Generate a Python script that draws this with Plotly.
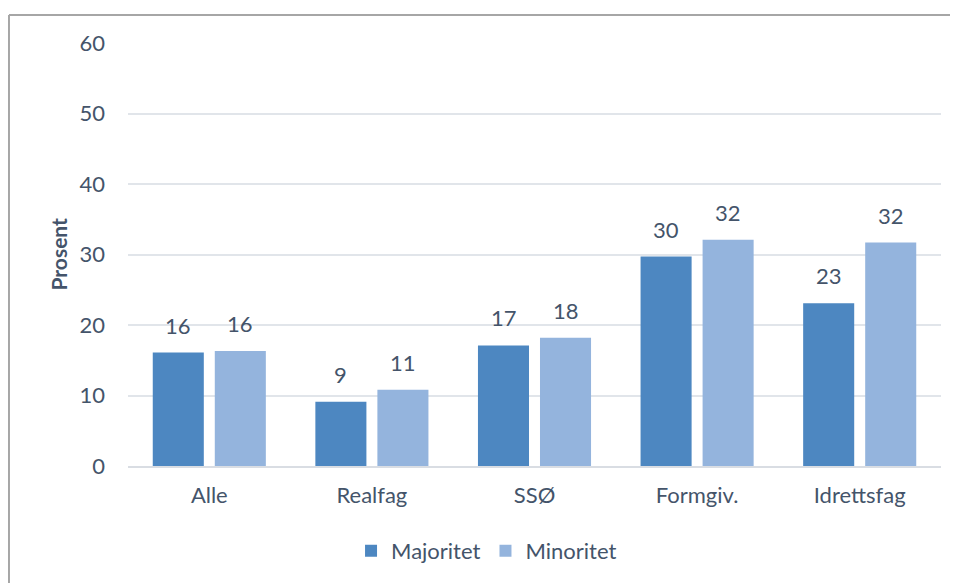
import plotly.graph_objects as go

categories = ["Alle", "Realfag", "SSØ", "Formgiv.", "Idrettsfag"]
majoritet = [16.1, 9.1, 17.1, 29.7, 23.1]
minoritet = [16.3, 10.8, 18.2, 32.1, 31.7]
y_ticks = [0, 10, 20, 30, 40, 50, 60]

text_color = "#44546a"
font_family = "Lato, 'Open Sans', sans-serif"
FS = 22

fig = go.Figure()
fig.add_trace(go.Bar(
    name="Majoritet", x=categories, y=majoritet,
    marker=dict(color="#4d87c1", line=dict(width=0)),
    textposition="none",
))
fig.add_trace(go.Bar(
    name="Minoritet", x=categories, y=minoritet,
    marker=dict(color="#94b4dd", line=dict(width=0)),
    textposition="none",
))

annotations = []
for series, shift in ((majoritet, -31), (minoritet, 31)):
    for cat, val in zip(categories, series):
        annotations.append(dict(
            x=cat, y=val, xref="x", yref="y", text=f"{val:.0f}", showarrow=False,
            xanchor="center", yanchor="bottom", xshift=shift, yshift=12,
            font=dict(size=FS, color=text_color, family=font_family)))

annotations.append(dict(text="<b>Prosent</b>", x=-0.0861, y=0.5, xref="paper", yref="paper",
                        textangle=-90, showarrow=False, xanchor="center", yanchor="middle",
                        font=dict(size=21, color=text_color, family=font_family)))

fig.update_layout(
    width=950, height=575,
    margin=dict(l=120, r=17, t=35, b=116),
    paper_bgcolor="white", plot_bgcolor="white",
    barmode="group", bargap=0.237, bargroupgap=0.177,
    font=dict(family=font_family, color=text_color, size=FS),
    showlegend=True,
    legend=dict(orientation="h", x=0.441, xanchor="center", y=-0.198, yanchor="middle",
                font=dict(size=FS, color=text_color), itemwidth=30,
                traceorder="normal"),
    xaxis=dict(showgrid=False, showline=True, linecolor="#d9dde3", linewidth=2,
               ticks="", tickfont=dict(size=FS, color=text_color),
               ticklabelstandoff=9),
    yaxis=dict(range=[0, 60], tickvals=y_ticks, showgrid=True, gridcolor="#e1e5ea",
               gridwidth=2, zeroline=False, showline=False, ticks="",
               tickfont=dict(size=FS, color=text_color), ticklabelstandoff=22),
    annotations=annotations,
    shapes=[
        dict(type="line", xref="paper", yref="paper", x0=-0.1464, x1=-0.1464, y0=1.066, y1=-0.5,
             line=dict(color="#a6a6a6", width=2)),
        dict(type="line", xref="paper", yref="paper", x0=-0.1464, x1=1.1, y0=1.066, y1=1.066,
             line=dict(color="#a6a6a6", width=2)),
    ],
)

fig.write_html("out.html")
